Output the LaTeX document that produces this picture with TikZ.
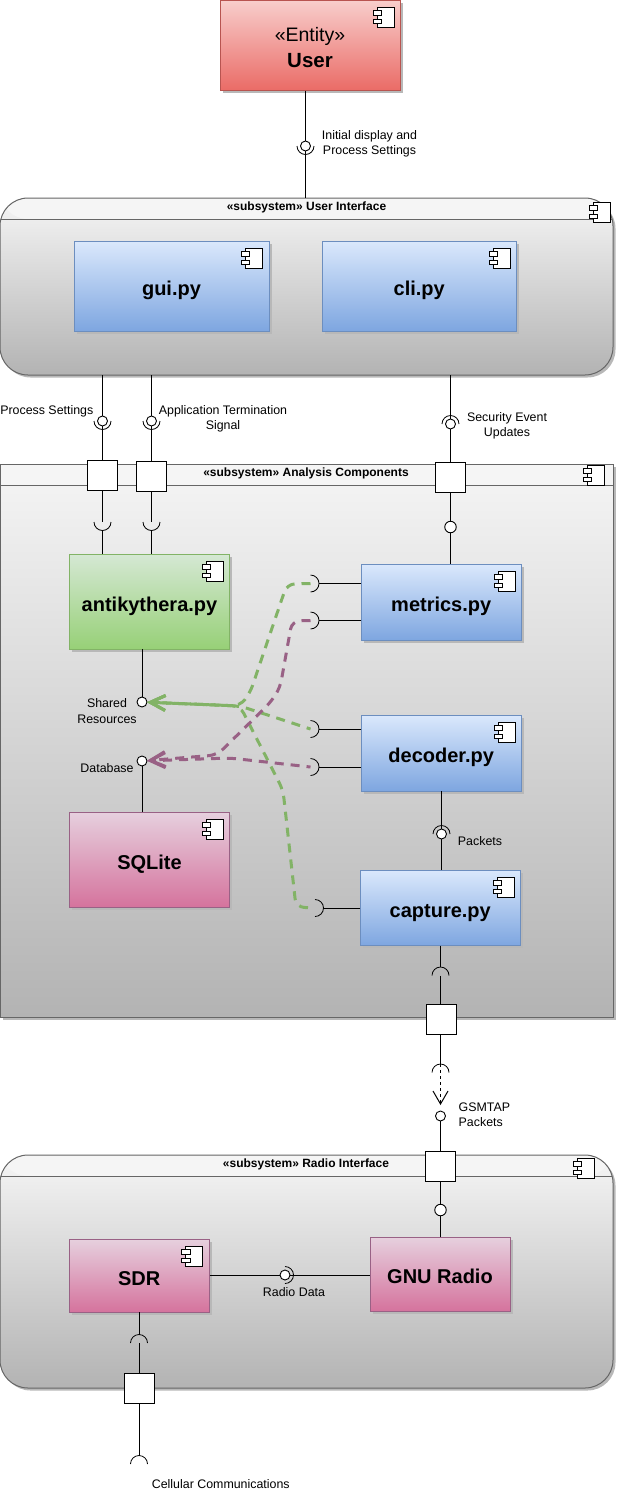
\documentclass[tikz,border=0pt]{standalone}
\usepackage{fontspec}
\setmainfont{Liberation Sans}
\usetikzlibrary{arrows.meta, shadows}

\definecolor{blueTop}{HTML}{DAE8FC}
\definecolor{blueBot}{HTML}{7EA6E0}
\definecolor{blueEdge}{HTML}{6C8EBF}
\definecolor{redTop}{HTML}{F8CECC}
\definecolor{redBot}{HTML}{EA6B66}
\definecolor{redEdge}{HTML}{B85450}
\definecolor{greenTop}{HTML}{D5E8D4}
\definecolor{greenBot}{HTML}{97D077}
\definecolor{greenEdge}{HTML}{82B366}
\definecolor{pinkTop}{HTML}{E6D0DE}
\definecolor{pinkBot}{HTML}{D5739D}
\definecolor{pinkEdge}{HTML}{996185}
\definecolor{frameTop}{HTML}{F5F5F5}
\definecolor{frameBot}{HTML}{B3B3B3}
\definecolor{frameEdge}{HTML}{666666}

\tikzset{
  softshadow/.style={drop shadow={shadow xshift=2.5pt, shadow yshift=-2.5pt, fill=black!28, opacity=1}},
  compbox/.style={anchor=north west, inner sep=0pt, outer sep=0pt, line width=1pt, softshadow, align=center, text height=19pt, text depth=0pt, font=\fontsize{20}{24}\selectfont\bfseries},
  bluebox/.style={compbox, draw=blueEdge, top color=blueTop, bottom color=blueBot},
  redbox/.style={compbox, draw=redEdge, top color=redTop, bottom color=redBot},
  greenbox/.style={compbox, draw=greenEdge, top color=greenTop, bottom color=greenBot},
  pinkbox/.style={compbox, draw=pinkEdge, top color=pinkTop, bottom color=pinkBot},
  subframe/.style={anchor=north west, inner sep=0pt, outer sep=0pt, line width=1pt, softshadow, draw=frameEdge, top color=frameTop, bottom color=frameBot,
    path picture={
      \fill[frameTop] (path picture bounding box.north west) rectangle ([yshift=-21pt]path picture bounding box.north east);
      \draw[frameEdge, line width=1pt] ([yshift=-21pt]path picture bounding box.north west) -- ([yshift=-21pt]path picture bounding box.north east);
    }},
  subtitle/.style={font=\fontsize{12}{14}\selectfont\bfseries, inner sep=0pt},
  portbox/.style={draw=black, fill=white, line width=1pt, minimum size=30pt, inner sep=0pt, outer sep=0pt},
  ball/.style={circle, draw=black, fill=white, line width=0.9pt, minimum size=10pt, inner sep=0pt, outer sep=0pt},
  bigball/.style={ball, minimum size=11.5pt},
  wire/.style={draw=black, line width=1pt},
  lbl/.style={font=\fontsize{12.4}{15.2}\selectfont, align=center, inner sep=0pt},
  greendash/.style={draw=greenEdge, line width=3pt, dash pattern=on 9pt off 7pt, rounded corners=8pt, -{Straight Barb[length=15pt, width=15pt]}},
  pinkdash/.style={draw=pinkEdge, line width=3pt, dash pattern=on 9pt off 7pt, rounded corners=8pt, -{Straight Barb[length=15pt, width=15pt]}},
  compicon/.pic={
    \draw[black, fill=white, line width=0.9pt] (4pt,0pt) rectangle (21pt,-20pt);
    \draw[black, fill=white, line width=0.9pt] (0pt,-3.7pt) rectangle (8.3pt,-8pt);
    \draw[black, fill=white, line width=0.9pt] (0pt,-12pt) rectangle (8.3pt,-16.3pt);
  },
  sockarc/.pic={
    \draw[black, line width=0.8pt] (-8.5pt,0pt) arc[start angle=180, end angle=360, radius=8.5pt];
  }
}

\begin{document}
\begin{tikzpicture}[x=1pt, y=-1pt]
  \useasboundingbox (0,0) rectangle (617,1489);

  % frames
  \node[subframe, rounded corners=28pt, minimum width=613pt, minimum height=177pt] (uiframe) at (0,198) {};
  \node[subframe, minimum width=613pt, minimum height=553pt] (anframe) at (0,464) {};
  \node[subframe, rounded corners=28pt, minimum width=613pt, minimum height=233pt] (rdframe) at (0,1155) {};
  \node[subtitle] (uititle) at (306.5,207.5) {«subsystem» User Interface};
  \node[subtitle] (antitle) at (306,473.5) {«subsystem» Analysis Components};
  \node[subtitle] (rdtitle) at (306,1164.5) {«subsystem» Radio Interface};
  \pic at (589,202) {compicon};
  \pic at (583,465) {compicon};
  \pic at (573,1158) {compicon};

  % components
  \node[redbox, minimum width=180.5pt, minimum height=90.5pt] (user) at (220,0) {};
  \node[font=\fontsize{19.5}{24}\selectfont, inner sep=0pt] (usertag) at (310,36) {«Entity»};
  \node[font=\fontsize{20.5}{24}\selectfont\bfseries, inner sep=0pt] (username) at (310,60.5) {User};
  \node[bluebox, minimum width=195pt, minimum height=90pt] (gui) at (74,241) {gui.py};
  \node[bluebox, minimum width=194.5pt, minimum height=90pt] (cli) at (322,241) {cli.py};
  \node[greenbox, minimum width=160pt, minimum height=95pt] (anti) at (69.5,554) {antikythera.py};
  \node[pinkbox, minimum width=160pt, minimum height=95pt] (sqlite) at (69.5,812) {SQLite};
  \node[bluebox, minimum width=160.5pt, minimum height=76pt] (metrics) at (361,564) {metrics.py};
  \node[bluebox, minimum width=160.5pt, minimum height=76pt] (decoder) at (361,715) {decoder.py};
  \node[bluebox, minimum width=160.5pt, minimum height=75.5pt] (capture) at (360,870) {capture.py};
  \node[pinkbox, minimum width=140.5pt, minimum height=73pt] (sdr) at (69,1239) {SDR};
  \node[pinkbox, minimum width=140pt, minimum height=74pt] (gnuradio) at (370,1237) {GNU Radio};
  \pic at (373,7) {compicon};
  \pic at (241,248) {compicon};
  \pic at (489,248) {compicon};
  \pic at (202,561) {compicon};
  \pic at (202,819) {compicon};
  \pic at (494,571) {compicon};
  \pic at (494,722) {compicon};
  \pic at (493,877) {compicon};
  \pic at (181.7,1246) {compicon};

  % ports
  \node[portbox] (psport) at (102.5,475) {};
  \node[portbox] (atport) at (151.5,476) {};
  \node[portbox] (seport) at (450.5,477.3) {};
  \node[portbox] (cpport) at (441.5,1019) {};
  \node[portbox] (gsport) at (440.5,1166) {};
  \node[portbox] (ccport) at (139,1388) {};

  % balls
  \node[ball] (uiball) at (305.5,146) {};
  \node[ball] (psball) at (102.5,421) {};
  \node[ball] (atball) at (151.5,421) {};
  \node[ball] (seball) at (450.5,424) {};
  \node[bigball] (mtball) at (450.5,527) {};
  \node[ball] (shball) at (142,702) {};
  \node[ball] (dbball) at (142,761) {};
  \node[ball] (pkball) at (441.5,834) {};
  \node[ball] (gsball) at (440.5,1116) {};
  \node[bigball] (grball) at (440.5,1210) {};
  \node[ball] (rdball) at (285,1275) {};

  % free sockets
  \coordinate (pssock) at (102.5,522);
  \coordinate (atsock) at (151.5,522);
  \coordinate (mtsocka) at (310.5,583.5);
  \coordinate (mtsockb) at (310.5,620.5);
  \coordinate (dcsocka) at (310.5,729);
  \coordinate (dcsockb) at (310.5,767);
  \coordinate (cpsock) at (315,908);
  \coordinate (cptop) at (440.5,975.5);
  \coordinate (gstop) at (440.5,1072.5);
  \coordinate (gstip) at (440.5,1105);
  \coordinate (sdsock) at (139,1343);
  \coordinate (ccsock) at (139,1464);

  % wires
  \draw[wire] (uiball |- user.south) -- (uiball);
  \draw[wire] (uiball) -- (uiball |- uiframe.north);
  \draw[wire] (psball |- uiframe.south) -- (psball);
  \draw[wire] (psball) -- (psport);
  \draw[wire] (atball |- uiframe.south) -- (atball);
  \draw[wire] (atball) -- (atport);
  \draw[wire] (seball |- uiframe.south) -- (seball);
  \draw[wire] (seball) -- (seport);
  \draw[wire] (seport) -- (mtball);
  \draw[wire] (mtball) -- (mtball |- metrics.north);
  \draw[wire] (psport) -- (pssock);
  \draw[wire] ([yshift=-8.5pt]pssock) -- (pssock |- anti.north);
  \draw[wire] (atport) -- (atsock);
  \draw[wire] ([yshift=-8.5pt]atsock) -- (atsock |- anti.north);
  \draw[wire] (shball |- anti.south) -- (shball);
  \draw[wire] (dbball) -- (dbball |- sqlite.north);
  \draw[wire] (metrics.west |- mtsocka) -- ([xshift=8.5pt]mtsocka);
  \draw[wire] (metrics.west |- mtsockb) -- ([xshift=8.5pt]mtsockb);
  \draw[wire] (decoder.west |- dcsocka) -- ([xshift=8.5pt]dcsocka);
  \draw[wire] (decoder.west |- dcsockb) -- ([xshift=8.5pt]dcsockb);
  \draw[wire] (capture.west |- cpsock) -- ([xshift=8.5pt]cpsock);
  \draw[wire] (pkball |- decoder.south) -- (pkball);
  \draw[wire] (pkball) -- (pkball |- capture.north);
  \draw[wire] (cptop |- capture.south) -- ([yshift=8.5pt]cptop);
  \draw[wire] (cptop) -- (cpport.north -| cptop);
  \draw[wire] (cpport.south -| gstop) -- ([yshift=8.5pt]gstop);
  \draw[wire, dash pattern=on 3pt off 3pt, -{Straight Barb[length=13pt, width=15pt, line width=1pt]}] ([yshift=8.5pt]gstop) -- (gstip);
  \draw[wire] (gsball) -- (gsport);
  \draw[wire] (gsport) -- (grball);
  \draw[wire] (grball) -- (grball |- gnuradio.north);
  \draw[wire] (sdr.east |- rdball) -- (rdball);
  \draw[wire] (rdball) -- (gnuradio.west |- rdball);
  \draw[wire] (sdsock |- sdr.south) -- ([yshift=8.5pt]sdsock);
  \draw[wire] (sdsock) -- (ccport);
  \draw[wire] (ccport) -- ([yshift=8.5pt]ccsock);

  % sockets
  \pic at (uiball) {sockarc};
  \pic at (psball) {sockarc};
  \pic at (atball) {sockarc};
  \pic[rotate=180] at (seball) {sockarc};
  \pic[rotate=180] at (pkball) {sockarc};
  \pic[rotate=90] at (rdball) {sockarc};
  \pic at (pssock) {sockarc};
  \pic at (atsock) {sockarc};
  \pic[rotate=90] at (mtsocka) {sockarc};
  \pic[rotate=90] at (mtsockb) {sockarc};
  \pic[rotate=90] at (dcsocka) {sockarc};
  \pic[rotate=90] at (dcsockb) {sockarc};
  \pic[rotate=90] at (cpsock) {sockarc};
  \pic[rotate=180] at (cptop) {sockarc};
  \pic[rotate=180] at (gstop) {sockarc};
  \pic[rotate=180] at (sdsock) {sockarc};
  \pic[rotate=180] at (ccsock) {sockarc};

  % dashed links
  \draw[greendash] (mtsocka) -- (287,584) -- (250,693) -- (240,706) -- (shball);
  \draw[greendash, dash phase=5pt] (dcsocka) -- (240,706) -- (shball);
  \draw[greendash, dash phase=9pt] (cpsock) -- (296,907) -- (283,790) -- (240,706) -- (shball);
  \draw[pinkdash] (mtsockb) -- (292,621) -- (280,688) -- (270,703) -- (217,755) -- (dbball);
  \draw[pinkdash, dash phase=5pt] (dcsockb) -- (230,758) -- (dbball);

  % labels
  \node[lbl] (uilbl) at (369.5,143.5) {Initial display and\\Process Settings};
  \node[lbl, anchor=east] (pslbl) at (93.5,411) {Process Settings};
  \node[lbl] (atlbl) at (223,418.5) {Application Termination\\Signal};
  \node[lbl] (selbl) at (507,426) {Security Event\\Updates};
  \node[lbl] (shlbl) at (107,711) {Shared\\Resources};
  \node[lbl] (dblbl) at (107,768) {Database};
  \node[lbl] (pklbl) at (480,841) {Packets};
  \node[lbl, align=left, anchor=west] (gslbl) at (458.5,1115) {GSMTAP\\Packets};
  \node[lbl] (rdlbl) at (294,1292) {Radio Data};
  \node[lbl] (cclbl) at (220.8,1484) {Cellular Communications};
\end{tikzpicture}
\end{document}
